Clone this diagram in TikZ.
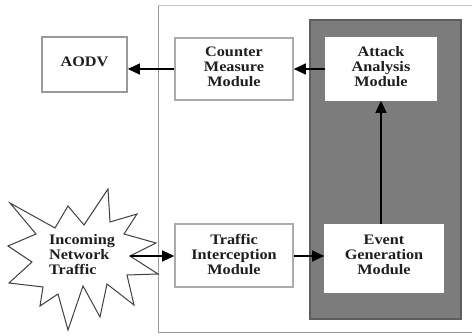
\documentclass[tikz,border=0pt]{standalone}
\usepackage{fontspec}
\setmainfont{Liberation Serif}[FakeStretch=1.12]
\usetikzlibrary{arrows.meta}
\definecolor{panel}{HTML}{7C7C7C}
\definecolor{paneledge}{HTML}{5E5E5E}
\definecolor{boxedge}{HTML}{ABABAB}
\definecolor{frameedge}{HTML}{9A9A9A}
\definecolor{ink}{HTML}{1E1E1E}
\tikzset{
  modbox/.style={draw=boxedge, line width=1.6pt, fill=white, inner sep=0pt},
  modtext/.style={text=ink, font=\fontsize{14.5}{15}\selectfont\bfseries, align=center, inner sep=0pt},
  flow/.style={line width=1.2pt, draw=black, -{Triangle[length=12pt,width=11pt]}},
}
\begin{document}
\begin{tikzpicture}[x=1pt,y=-1pt]
  \useasboundingbox (0,0) rectangle (472,336);
  \fill[white] (0,0) rectangle (472,336);

  % system frame, open on the right
  \draw[frameedge, line width=1pt] (472,6) -- (158,6) -- (158,332.5) -- (472,332.5);
  \draw[boxedge!70, line width=1pt] (158,6) -- (472,6);

  % shaded analysis panel
  \draw[paneledge, fill=panel, line width=1.5pt] (310,20) rectangle (461,319);

  % modules
  \node[modbox, draw=frameedge, minimum width=85pt, minimum height=55pt] (aodv) at (84.5,64.5) {};
  \node[modtext] (aodvt) at (84.5,62) {AODV};

  \node[modbox, minimum width=118pt, minimum height=62pt] (cmm) at (234,69) {};
  \node[modtext] (cmmt) at (234,67) {Counter\\Measure\\Module};

  \node[modbox, draw=white, minimum width=110pt, minimum height=62pt] (aam) at (381,69) {};
  \node[modtext] (aamt) at (381,67) {Attack\\Analysis\\Module};

  \node[modbox, minimum width=118pt, minimum height=63pt] (tim) at (234,255.5) {};
  \node[modtext] (timt) at (234,254.5) {Traffic\\Interception\\Module};

  \node[modbox, draw=white, minimum width=118pt, minimum height=67pt] (egm) at (384,258.5) {};
  \node[modtext] (egmt) at (384,254.5) {Event\\Generation\\Module};

  % incoming traffic burst
  \draw[ink!85, line width=1pt, fill=white, line join=miter]
    (10,203) -- (55,228) -- (68,206) -- (84,225) -- (108,189) -- (110,222)
    -- (137,214) -- (124,234) -- (156,243) -- (130,256) -- (158,274)
    -- (127,275) -- (134,305) -- (107,284) -- (100,317) -- (83,286)
    -- (68,330) -- (58,294) -- (40,306) -- (43,287) -- (9,283)
    -- (32,262) -- (8,246) -- (36,234) -- cycle;
  \coordinate (burst) at (130,256);
  \node[modtext, align=left] (burstt) at (82,254.5) {Incoming\\Network\\Traffic};

  % data flow
  \draw[flow] (cmm.west) -- (cmm.west -| aodv.east);
  \draw[flow] (aam.west) -- (aam.west -| cmm.east);
  \draw[flow] (aam.south |- egm.north) -- (aam.south);
  \draw[flow] (burst) -- (burst -| tim.west);
  \draw[flow] (tim.east |- burst) -- (burst -| egm.west);
\end{tikzpicture}
\end{document}
